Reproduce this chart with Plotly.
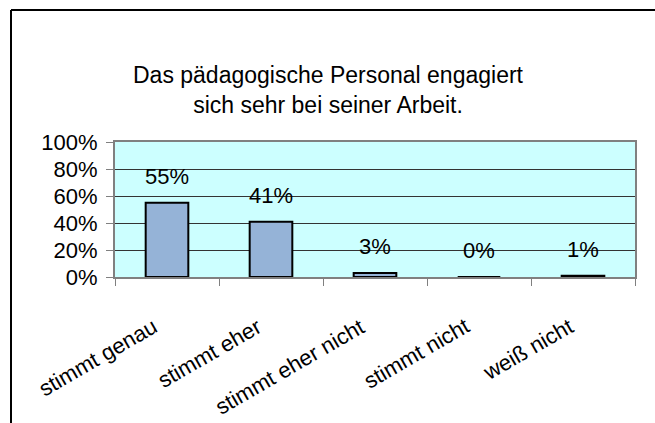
import plotly.graph_objects as go

categories = ["stimmt genau", "stimmt eher", "stimmt eher nicht", "stimmt nicht", "weiß nicht"]
values = [0.55, 0.41, 0.03, 0.0, 0.01]
labels = ["55%", "41%", "3%", "0%", "1%"]
title_text = "Das pädagogische Personal engagiert<br>sich sehr bei seiner Arbeit."

W, H = 655, 423
ML, MT = 115, 142
PR, PB = 635, 277
MR, MB = W - PR, H - PB
PW = W - ML - MR
PH = H - MT - MB

def px_x(p):
    return (p - ML) / PW

def px_y(p):
    return (PB - p) / PH

FONT = "Arial, Liberation Sans, sans-serif"

fig = go.Figure()
fig.add_trace(go.Bar(
    x=categories, y=values, width=0.41,
    marker=dict(color="#95B3D7", line=dict(color="black", width=2)),
    hoverinfo="skip",
))

for c, v, t in zip(categories, values, labels):
    fig.add_annotation(x=c, y=v, text=t, showarrow=False, yanchor="bottom",
                       yshift=12, font=dict(family=FONT, size=22, color="black"))

# rotated category labels
for c in categories:
    fig.add_annotation(x=c, y=px_y(311), yref="paper", text=c, showarrow=False,
                       textangle=-30, xanchor="right", yanchor="top", xshift=-3,
                       font=dict(family=FONT, size=22, color="black"))

# outer chart frame (only its top and left edges fall inside the picture)
fig.add_shape(type="line", xref="paper", yref="paper",
              x0=px_x(11), x1=px_x(680), y0=px_y(10), y1=px_y(10),
              line=dict(color="black", width=2), layer="above")
fig.add_shape(type="line", xref="paper", yref="paper",
              x0=px_x(11), x1=px_x(11), y0=px_y(10), y1=px_y(480),
              line=dict(color="black", width=2), layer="above")

fig.update_layout(
    width=W, height=H,
    margin=dict(l=ML, r=MR, t=MT, b=MB, pad=0, autoexpand=False),
    paper_bgcolor="white", plot_bgcolor="#CCFFFF",
    showlegend=False,
    font=dict(family=FONT, color="black"),
    title=dict(text=title_text, x=328 / W, xref="container", xanchor="center",
               y=1 - 83 / H, yref="container", yanchor="middle",
               font=dict(family=FONT, size=23, color="black")),
    xaxis=dict(type="category", range=[-0.5, len(categories) - 0.5],
               tickson="boundaries", ticks="outside", ticklen=7,
               tickcolor="#808080", tickwidth=1, showline=True, linecolor="#808080",
               linewidth=2, mirror=True, showgrid=False, showticklabels=False),
    yaxis=dict(range=[0, 1], dtick=0.2, tickformat=".0%", ticks="outside", ticklen=7,
               tickcolor="#808080", showline=True, linecolor="#808080", linewidth=2,
               mirror=True, showgrid=True, gridcolor="#333333", gridwidth=1,
               ticklabelstandoff=4,
               zeroline=False, tickfont=dict(family=FONT, size=22, color="black")),
)

fig.write_html(
    "out.html",
    config={"displayModeBar": False},
    post_script="document.body.style.margin='0';document.body.style.overflow='hidden';",
)
